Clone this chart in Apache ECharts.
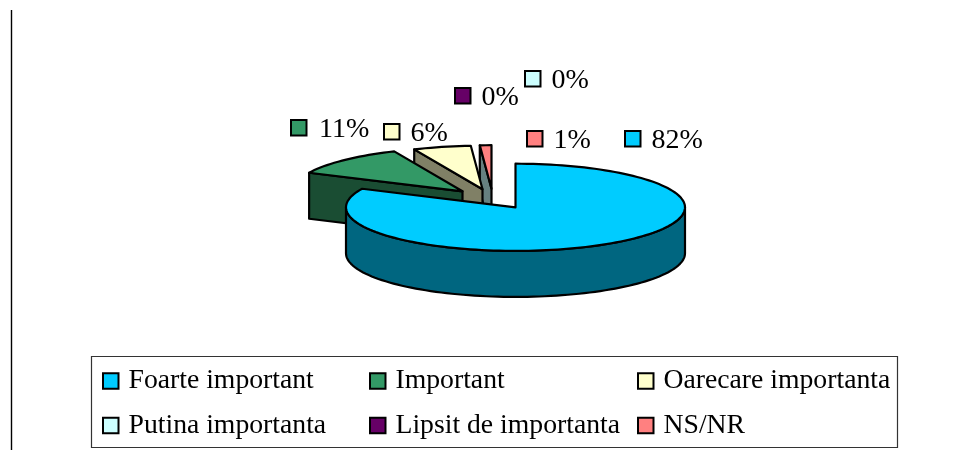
<!DOCTYPE html>
<html><head><meta charset="utf-8">
<style>html,body{margin:0;padding:0;background:#fff}#c{width:969px;height:450px}</style>
<script src="https://cdn.jsdelivr.net/npm/echarts@6/dist/echarts.min.js"></script>
</head><body><div id="c"></div>
<script>
// Data
const categories = ['Foarte important','Important','Oarecare importanta','Putina importanta','Lipsit de importanta','NS/NR'];
const values = [82, 11.4, 5.5, 0, 0, 1.1];
// Styles / layout
const topColors = ['#00CCFF','#339966','#FFFFCC','#CCFFFF','#660066','#FF8080'];
const sideColors = ['#006680','#1A4D33','#808066','#668080','#330033','#668080'];
const FONT = '"Liberation Serif","Times New Roman",serif';
const CX = 515.5, CY = 207.3, RX = 169.5, RY = 43.6, DEPTH = 46;
const explode = [[0,0],[-53,-16],[-33,-18],[0,0],[0,0],[-24,-18.5]];
const labelPos = [[625,131],[291,120],[384,124],[525,71],[455,88],[527,131]];
const labelGap = [26.5,28,26.5,26.5,26.5,26.5];
const paintZ = [6,5,4,2,2,3];
const total = values.reduce((a,b)=>a+b,0);
const starts = values.map((v,i)=>values.slice(0,i).reduce((a,b)=>a+b,0)/total*360);

const pt = (deg, ox, oy, dy) => {
  const r = deg*Math.PI/180;
  return [CX+ox+RX*Math.sin(r), CY+oy-RY*Math.cos(r)+(dy||0)];
};
const arc = (a,b,ox,oy,dy) => {
  const n = Math.max(2, Math.ceil(Math.abs(b-a)/2)), out = [];
  for (let k=0;k<=n;k++) out.push(pt(a+(b-a)*k/n,ox,oy,dy));
  return out;
};
const stroke = {stroke:'#000',lineWidth:2.2,lineJoin:'round'};
function renderSlice(i){
  return function(params, api){
    const v = api.value(0), kids = [];
    const a0 = starts[i], a1 = a0 + v/total*360;
    const [ox,oy] = explode[i];
    const apex = [CX+ox, CY+oy];
    if (v > 0) {
      const fa = Math.max(a0,90), fb = Math.min(a1,270);
      if (fb > fa) {
        const upper = arc(fa,fb,ox,oy,0), lower = arc(fb,fa,ox,oy,DEPTH);
        kids.push({type:'polygon',shape:{points:upper.concat(lower)},style:Object.assign({fill:sideColors[i]},stroke)});
      }
      if (a0 > 180 && a0 < 360) {
        const p = pt(a0,ox,oy,0);
        kids.push({type:'polygon',shape:{points:[p,apex,[apex[0],apex[1]+DEPTH],[p[0],p[1]+DEPTH]]},style:Object.assign({fill:sideColors[i]},stroke)});
      }
      kids.push({type:'polygon',shape:{points:[apex].concat(arc(a0,a1,ox,oy,0))},style:Object.assign({fill:topColors[i]},stroke)});
    }
    const [lx,ly] = labelPos[i];
    kids.push({type:'rect',shape:{x:lx,y:ly,width:15.5,height:15.5},style:{fill:topColors[i],stroke:'#000',lineWidth:2},z2:10});
    kids.push({type:'text',x:lx+labelGap[i],y:ly+9.5,style:{text:Math.round(v)+'%',font:'28px '+FONT,fill:'#000',verticalAlign:'middle',align:'left'},z2:10});
    return {type:'group',children:kids};
  };
}
const series = categories.map((name,i)=>({
  type:'custom',name,coordinateSystem:'none',z:paintZ[i],silent:true,animation:false,
  itemStyle:{color:topColors[i]},data:[[values[i]]],renderItem:renderSlice(i)
}));
const legendBase = {orient:'vertical',top:367,itemWidth:15.5,itemHeight:15.5,itemGap:16.5,icon:'rect',selectedMode:false,
  padding:0,textStyle:{fontFamily:FONT,fontSize:27.7,color:'#000',padding:[0,0,0,5]},
  itemStyle:{borderColor:'#000',borderWidth:2}};
const legend = [0,1,2].map((c,j)=>Object.assign({},legendBase,{
  left:[102,369,637][j],data:[categories[c],categories[c+3]]
}));
const chart = echarts.init(document.getElementById('c'),null,{renderer:'canvas'});
chart.setOption({
  animation:false,backgroundColor:'#fff',legend,series,
  graphic:[
    {type:'line',silent:true,shape:{x1:11.5,y1:10,x2:11.5,y2:450},style:{stroke:'#000',lineWidth:1.4}},
    {type:'rect',silent:true,z:-1,shape:{x:91.5,y:356.5,width:806,height:91},style:{fill:'#fff',stroke:'#333',lineWidth:1.2}}
  ]
});
</script></body></html>
